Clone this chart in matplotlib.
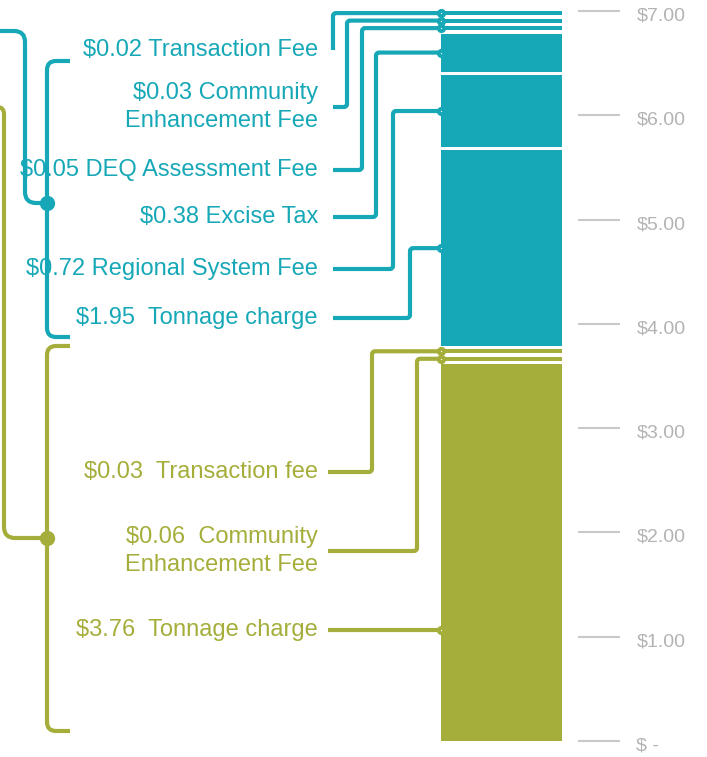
import numpy as np
import matplotlib
matplotlib.use("Agg")
import matplotlib.pyplot as plt
from matplotlib.path import Path
from matplotlib.patches import PathPatch
from matplotlib.transforms import ScaledTranslation

plt.rcParams['font.family'] = ['Liberation Sans', 'DejaVu Sans']

TEAL = "#17a8b8"
OLIVE = "#a5ae3a"

# fees per group, listed top to bottom as they appear next to the bar
teal_names = ["Transaction Fee", "Community\nEnhancement Fee", "DEQ Assessment Fee",
              "Excise Tax", "Regional System Fee", " Tonnage charge"]
teal_values = [0.02, 0.03, 0.05, 0.38, 0.72, 1.95]

olive_names = [" Transaction fee", " Community\nEnhancement Fee", " Tonnage charge"]
olive_values = [0.03, 0.06, 3.76]

tick_values = [0, 1, 2, 3, 4, 5, 6, 7]
tick_labels = ["$ -", "$1.00", "$2.00", "$3.00", "$4.00", "$5.00", "$6.00", "$7.00"]

# layout of the call-outs, in pixels of the 707x757 picture
W, H = 707, 757
teal_label_y = [50, 107, 170, 217, 269, 318]
teal_elbow_x = [333, 347, 362, 376, 393, 410]
olive_label_y = [472, 551, 630]
olive_elbow_x = [372, 417, None]
LABEL_X = 318
BAR_LEFT, BAR_W = 441, 121

# stack from the bottom up
stack_values = olive_values[::-1] + teal_values[::-1]
stack_colors = [OLIVE] * len(olive_values) + [TEAL] * len(teal_values)

# tiny fees get a minimum visible thickness and segments are split by a gap,
# the larger ones are scaled so the stack still tops out at the total
MIN_H, GAP = 0.04, 0.032
small = [v < 0.1 for v in stack_values]
total = sum(stack_values)
large_sum = sum(v for v, s in zip(stack_values, small) if not s)
scale = (total - MIN_H * sum(small) - GAP * (len(stack_values) - 1)) / large_sum
shown = [MIN_H if s else v * scale for v, s in zip(stack_values, small)]
bottoms = np.concatenate([[0], np.cumsum(np.array(shown) + GAP)[:-1]])

fig = plt.figure(figsize=(W / 100, H / 100), dpi=100)

ax = fig.add_axes([BAR_LEFT / W, 16 / H, (578 - BAR_LEFT) / W, 730 / H])
ax.bar(0, shown, width=BAR_W, bottom=bottoms, align='edge', color=stack_colors, linewidth=0)
ax.set_xlim(0, 578 - BAR_LEFT)
ax.set_ylim(0, total)
for sp in ax.spines.values():
    sp.set_visible(False)
ax.set_xticks([])
ax.yaxis.tick_right()
ax.set_yticks(tick_values)
ax.set_yticklabels(tick_labels)
ax.tick_params(axis='y', length=30, width=1.5, color='#c9c9c9', pad=12,
               labelcolor='#b3b3b3', labelsize=14)
shift = ScaledTranslation(0, -0.03, fig.dpi_scale_trans)
for lab in ax.get_yticklabels():
    lab.set_transform(lab.get_transform() + shift)

ov = fig.add_axes([0, 0, 1, 1], zorder=3)
ov.set_xlim(0, W)
ov.set_ylim(H, 0)
ov.axis('off')


def to_px(v):
    d = ax.transData.transform((0, v))
    return ov.transData.inverted().transform(d)[1]


def rounded(points, r):
    pts = [np.array(points[0], float)]
    for p in points[1:]:
        p = np.array(p, float)
        if np.hypot(*(p - pts[-1])) > 1e-6:
            pts.append(p)
    verts, codes = [pts[0]], [Path.MOVETO]
    for i in range(1, len(pts) - 1):
        p0, p1, p2 = pts[i - 1], pts[i], pts[i + 1]
        l1, l2 = np.hypot(*(p1 - p0)), np.hypot(*(p2 - p1))
        rr = min(r, l1 / 2, l2 / 2)
        a = p1 - (p1 - p0) / l1 * rr
        b = p1 + (p2 - p1) / l2 * rr
        verts += [a, p1, b]
        codes += [Path.LINETO, Path.CURVE3, Path.CURVE3]
    verts.append(pts[-1])
    codes.append(Path.LINETO)
    return Path(verts, codes)


def line(points, color, r=3, lw=3):
    ov.add_patch(PathPatch(rounded(points, r), fill=False, edgecolor=color, lw=lw,
                           capstyle='butt', joinstyle='round'))


def group(names, values, label_y, elbow_x, start_x, first_idx, color):
    n = len(values)
    for i in range(n):
        k = first_idx + (n - 1 - i)
        y = label_y[i]
        ov.text(LABEL_X, y, f"${values[i]:.2f} {names[i]}", ha='right', va='center',
                ma='right', fontsize=17, color=color, linespacing=1.3, parse_math=False)
        if elbow_x[i] is None:
            ty = y
            pts = [(start_x, y), (BAR_LEFT, y)]
        else:
            ty = to_px(bottoms[k] + shown[k] / 2)
            pts = [(start_x, y), (elbow_x[i], y), (elbow_x[i], ty), (BAR_LEFT, ty)]
        line(pts, color)
        ov.plot(BAR_LEFT, ty, 'o', ms=3.8, mfc='white', mec=color, mew=2.8)


group(teal_names, teal_values, teal_label_y, teal_elbow_x, 333, len(olive_values), TEAL)
group(olive_names, olive_values, olive_label_y, olive_elbow_x, 328, 0, OLIVE)

# group brackets and their links running off to the left
line([(70, 61), (47, 61), (47, 337), (70, 337)], TEAL, r=9)
line([(47, 203), (25, 203), (25, 31), (-10, 31)], TEAL, r=11)
ov.plot(47, 203, 'o', ms=10, color=TEAL)
line([(70, 346), (47, 346), (47, 731), (70, 731)], OLIVE, r=9)
line([(47, 538), (4, 538), (4, 107), (-10, 107)], OLIVE, r=11)
ov.plot(47, 538, 'o', ms=10, color=OLIVE)

fig.savefig("out.png", dpi=100)
